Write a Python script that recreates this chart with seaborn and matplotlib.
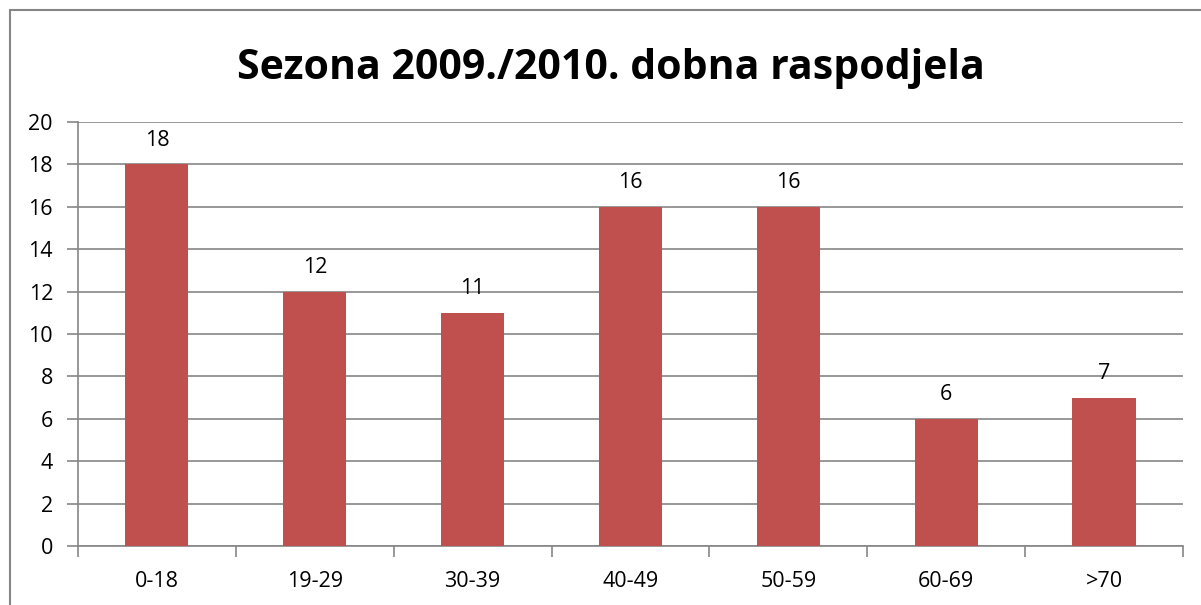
import matplotlib
matplotlib.use('Agg')
import matplotlib.pyplot as plt
import pandas as pd
import seaborn as sns
from matplotlib.patches import Rectangle

age_groups = ['0-18', '19-29', '30-39', '40-49', '50-59', '60-69', '>70']
counts = [18, 12, 11, 16, 16, 6, 7]
title = 'Sezona 2009./2010. dobna raspodjela'

bar_color = '#C0504D'
grid_color = '#868686'


def run():
    sns.set_theme(style='white')
    plt.rcParams['font.family'] = ['Open Sans', 'DejaVu Sans']
    plt.rcParams['text.color'] = 'black'
    plt.rcParams['xtick.color'] = 'black'
    plt.rcParams['ytick.color'] = 'black'

    df = pd.DataFrame({'age': age_groups, 'count': counts})

    fig = plt.figure(figsize=(12.01, 6.05), dpi=100)
    ax = fig.add_axes([0.0649, 0.0975, 0.9201, 0.7008])

    sns.barplot(data=df, x='age', y='count', color=bar_color, width=0.4,
                saturation=1, linewidth=0, ax=ax, zorder=3)

    ax.set_ylim(0, 20)
    ax.set_yticks(range(0, 21, 2))
    ax.set_xlim(-0.5, len(age_groups) - 0.5)
    ax.set_xlabel('')
    ax.set_ylabel('')

    # gridlines and axis styling
    ax.yaxis.grid(True, color=grid_color, linewidth=1.2, zorder=0)
    for side in ['top', 'right']:
        ax.spines[side].set_visible(False)
    for side in ['left', 'bottom']:
        ax.spines[side].set_color(grid_color)
        ax.spines[side].set_linewidth(1.2)

    # x ticks sit on category boundaries, labels at centres
    ax.set_xticks([i - 0.5 for i in range(len(age_groups) + 1)], minor=False)
    ax.set_xticklabels([''] * (len(age_groups) + 1))
    ax.set_xticks(range(len(age_groups)), minor=True)
    ax.set_xticklabels(age_groups, minor=True)
    ax.tick_params(axis='x', which='major', length=8, width=1.2, color=grid_color,
                   direction='out', bottom=True)
    ax.tick_params(axis='x', which='minor', length=0, pad=18, labelsize=15.5)
    ax.tick_params(axis='y', length=8, width=1.2, color=grid_color, direction='out',
                   left=True, labelsize=15.5, pad=10)

    for i, v in enumerate(counts):
        ax.annotate(str(v), (i, v), xytext=(0, 10), textcoords='offset points',
                    ha='center', va='bottom', fontsize=15.5)

    fig.text(0.509, 0.887, title, ha='center', va='center', fontsize=29.5,
             fontweight='bold')

    fig.patches.append(Rectangle((10 / 1201, -0.5), 2, 1.5 - 10 / 605,
                                 transform=fig.transFigure, fill=False,
                                 edgecolor=grid_color, linewidth=1.5))

    fig.savefig('out.png', dpi=100)
    plt.close(fig)


if __name__ == '__main__':
    run()
